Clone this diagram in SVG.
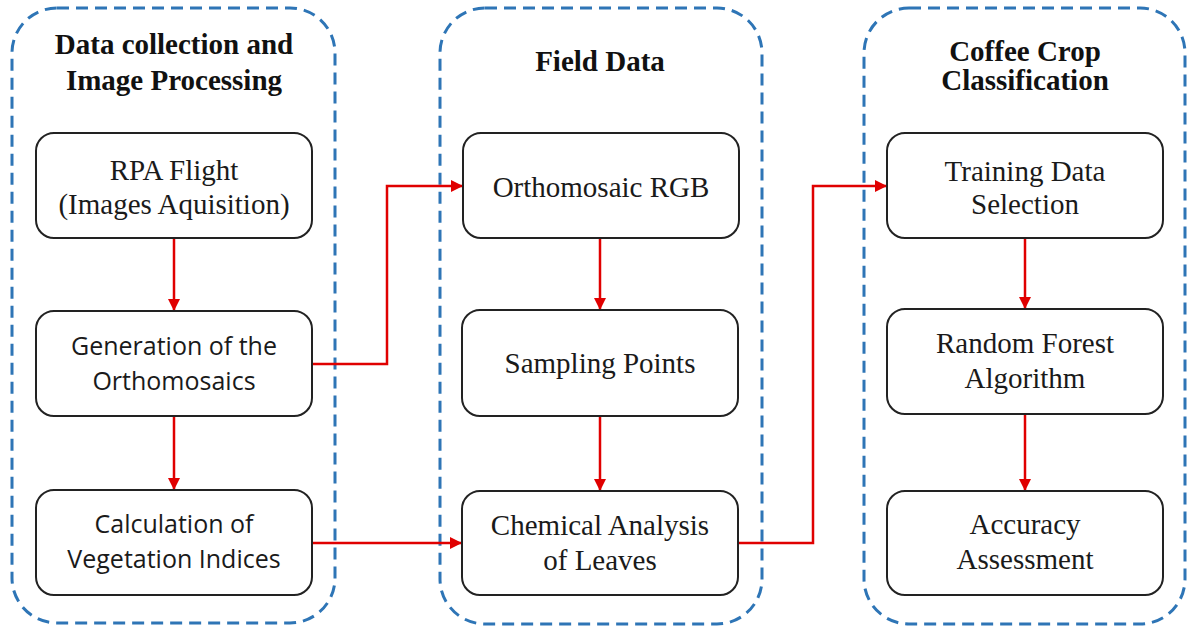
<svg xmlns="http://www.w3.org/2000/svg" width="1187" height="627" viewBox="0 0 1187 627">
  <style>
    .group { fill: none; stroke: #2e75b6; stroke-width: 3; stroke-dasharray: 12 7; }
    .box { fill: #ffffff; stroke: #222222; stroke-width: 2; }
    .title { font-family: "Liberation Serif", "Times New Roman", serif; font-weight: bold; font-size: 29px; fill: #111111; text-anchor: middle; }
    .serif { font-family: "Liberation Serif", "Times New Roman", serif; font-size: 29px; fill: #1a1a1a; text-anchor: middle; }
    .sans { font-family: "Open Sans", "Liberation Sans", sans-serif; font-size: 25px; fill: #1a1a1a; text-anchor: middle; }
    .link { fill: none; stroke: #e00000; stroke-width: 2.5; }
  </style>
  <defs>
    <marker id="arrow" viewBox="0 0 10 10" refX="10" refY="5" markerWidth="5" markerHeight="5" orient="auto" markerUnits="strokeWidth">
      <path d="M0,0 L10,5 L0,10 z" fill="#e00000"/>
    </marker>
  </defs>
  <rect width="1187" height="627" fill="#ffffff"/>

  <!-- stage containers -->
  <g id="stage-processing">
    <rect class="group" x="12" y="8" width="323" height="615" rx="45"/>
    <text class="title" x="174" y="54">Data collection and</text>
    <text class="title" x="174" y="90">Image Processing</text>
  </g>
  <g id="stage-field">
    <rect class="group" x="440" y="8" width="322" height="616" rx="45"/>
    <text class="title" x="600" y="71">Field Data</text>
  </g>
  <g id="stage-classification">
    <rect class="group" x="864" y="8" width="321" height="616" rx="45"/>
    <text class="title" x="1025" y="61">Coffee Crop</text>
    <text class="title" x="1025" y="90">Classification</text>
  </g>

  <!-- connectors -->
  <g id="connectors">
    <line class="link" x1="174" y1="238" x2="174" y2="311" marker-end="url(#arrow)"/>
    <line class="link" x1="174" y1="416" x2="174" y2="490" marker-end="url(#arrow)"/>
    <polyline class="link" points="312,364 387,364 387,186 463,186" marker-end="url(#arrow)"/>
    <line class="link" x1="312" y1="543" x2="462" y2="543" marker-end="url(#arrow)"/>
    <line class="link" x1="600" y1="238" x2="600" y2="310" marker-end="url(#arrow)"/>
    <line class="link" x1="600" y1="416" x2="600" y2="491" marker-end="url(#arrow)"/>
    <polyline class="link" points="739,543 813,543 813,186 887,186" marker-end="url(#arrow)"/>
    <line class="link" x1="1025" y1="238" x2="1025" y2="309" marker-end="url(#arrow)"/>
    <line class="link" x1="1025" y1="414" x2="1025" y2="491" marker-end="url(#arrow)"/>
  </g>

  <!-- left column -->
  <g id="rpa-flight">
    <rect class="box" x="36" y="133" width="276" height="105" rx="18"/>
    <text class="serif" x="174" y="180">RPA Flight</text>
    <text class="serif" x="174" y="214">(Images Aquisition)</text>
  </g>
  <g id="orthomosaic-generation">
    <rect class="box" x="36" y="311" width="276" height="105" rx="18"/>
    <text class="sans" x="174" y="355">Generation of the</text>
    <text class="sans" x="174" y="390">Orthomosaics</text>
  </g>
  <g id="vegetation-indices">
    <rect class="box" x="36" y="490" width="276" height="105" rx="18"/>
    <text class="sans" x="174" y="533">Calculation of</text>
    <text class="sans" x="174" y="568">Vegetation Indices</text>
  </g>

  <!-- middle column -->
  <g id="orthomosaic-rgb">
    <rect class="box" x="463" y="133" width="276" height="105" rx="18"/>
    <text class="serif" x="601" y="197">Orthomosaic RGB</text>
  </g>
  <g id="sampling-points">
    <rect class="box" x="462" y="310" width="276" height="106" rx="18"/>
    <text class="serif" x="600" y="373">Sampling Points</text>
  </g>
  <g id="chemical-analysis">
    <rect class="box" x="462" y="491" width="276" height="104" rx="18"/>
    <text class="serif" x="600" y="535">Chemical Analysis</text>
    <text class="serif" x="600" y="570">of Leaves</text>
  </g>

  <!-- right column -->
  <g id="training-data">
    <rect class="box" x="887" y="133" width="276" height="105" rx="18"/>
    <text class="serif" x="1025" y="181">Training Data</text>
    <text class="serif" x="1025" y="214">Selection</text>
  </g>
  <g id="random-forest">
    <rect class="box" x="887" y="309" width="276" height="105" rx="18"/>
    <text class="serif" x="1025" y="353">Random Forest</text>
    <text class="serif" x="1025" y="388">Algorithm</text>
  </g>
  <g id="accuracy-assessment">
    <rect class="box" x="887" y="491" width="276" height="104" rx="18"/>
    <text class="serif" x="1025" y="534">Accuracy</text>
    <text class="serif" x="1025" y="569">Assessment</text>
  </g>
</svg>
